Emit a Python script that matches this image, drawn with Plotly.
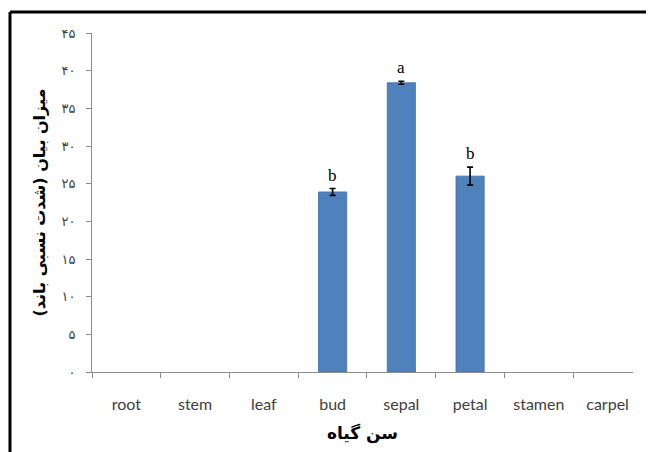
import plotly.graph_objects as go

categories = ["root", "stem", "leaf", "bud", "sepal", "petal", "stamen", "carpel"]
values = [None, None, None, 23.9, 38.4, 26.0, None, None]
errors = [0, 0, 0, 0.45, 0.2, 1.2, 0, 0]
letters = ["", "", "", "b", "a", "b", "", ""]
y_ticks = [0, 5, 10, 15, 20, 25, 30, 35, 40, 45]
y_tick_labels = ["۰", "۵", "۱۰", "۱۵", "۲۰", "۲۵", "۳۰", "۳۵", "۴۰", "۴۵"]
x_title = "سن گیاه"
y_title = "میزان بیان (شدت نسبی باند)"

fig = go.Figure()
fig.add_trace(go.Bar(
    x=categories, y=values,
    width=0.41,
    marker=dict(color="#4F81BD", line=dict(color="#3F6FA8", width=0.8)),
    error_y=dict(type="data", array=errors, visible=True, color="black", thickness=1.6, width=3),
))

for c, v, e, t in zip(categories, values, errors, letters):
    if t and v is not None:
        fig.add_annotation(x=c, y=v + e, text=t, showarrow=False, yanchor="bottom", yshift=2,
                           font=dict(family="Liberation Serif", size=17, color="black"))

# outer frame lines (top and left)
fig.add_shape(type="line", xref="paper", yref="paper", x0=-0.1516, x1=1.1, y0=1.062, y1=1.062,
              line=dict(color="black", width=3))
fig.add_shape(type="line", xref="paper", yref="paper", x0=-0.1516, x1=-0.1516, y0=1.062, y1=-0.3,
              line=dict(color="black", width=3))

fig.update_layout(
    width=646, height=444,
    margin=dict(l=84, r=21, t=25, b=80, autoexpand=False),
    paper_bgcolor="white", plot_bgcolor="white",
    showlegend=False,
    font=dict(family="Lato", color="#404040"),
    xaxis=dict(
        type="category", categoryorder="array", categoryarray=categories,
        automargin=False,
        showline=True, linecolor="#8c8c8c", linewidth=1,
        ticks="outside", tickson="boundaries", ticklen=5, tickcolor="#8c8c8c",
        tickfont=dict(family="Lato", size=16, color="#404040"),
        ticklabelstandoff=18,
        showgrid=False, range=[-0.5, 7.37],
        title=dict(text=x_title, font=dict(family="DejaVu Sans", size=17, color="black", weight="bold"),
                   standoff=14),
    ),
    yaxis=dict(
        range=[0, 45], tickvals=y_ticks, ticktext=y_tick_labels,
        automargin=False,
        showline=True, linecolor="#8c8c8c", linewidth=1,
        ticks="outside", ticklen=5, tickcolor="#8c8c8c",
        tickfont=dict(family="DejaVu Sans", size=13, color="#404040"),
        ticklabelstandoff=8,
        showgrid=False, zeroline=False,
        title=dict(text=y_title, font=dict(family="DejaVu Sans", size=16, color="black", weight="bold"),
                   standoff=11),
    ),
)

fig.write_html("out.html")
